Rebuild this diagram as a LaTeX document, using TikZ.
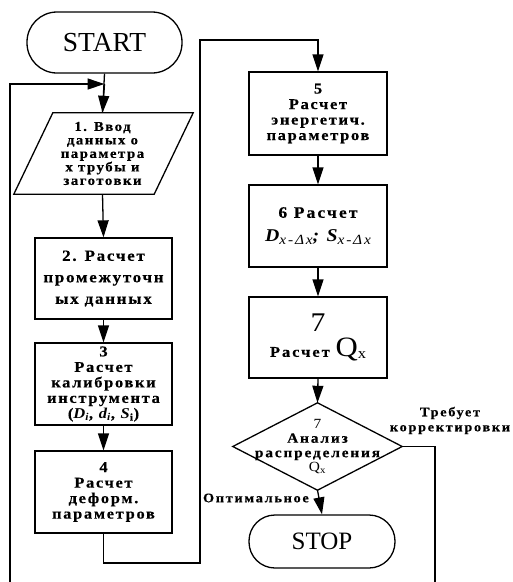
\documentclass[tikz,border=0pt]{standalone}
\usepackage{fontspec}
\setmainfont{Liberation Serif}
\newfontfamily\bsp{Liberation Serif}[LetterSpace=11,FakeStretch=1.1,BoldFeatures={FakeBold=0.4}]
\newfontfamily\bspw{Liberation Serif}[LetterSpace=13,FakeStretch=1.1,BoldFeatures={FakeBold=0.4}]
\usetikzlibrary{arrows.meta,calc}
\tikzset{
  ln/.style={line width=1.3pt},
  arr/.style={ln,-{Triangle[length=17pt,width=11pt]}},
  box/.style={draw,ln,minimum width=137pt,minimum height=81pt,inner sep=0pt,align=center,
    font={\bsp\bfseries\fontsize{15}{15.5}\selectfont}},
  term/.style={draw,ln,inner sep=0pt},
  lbl/.style={inner sep=0pt,align=center,font={\bspw\bfseries\fontsize{13}{15}\selectfont}}
}
\begin{document}
\begin{tikzpicture}[x=1pt,y=-1pt]
\useasboundingbox (0,0) rectangle (513,582);
% left column
\node[term,minimum width=155pt,minimum height=61pt,rounded corners=30pt,font={\fontsize{27.5}{28}\selectfont}] (start) at (104.5,42.5) {START};
\node[inner sep=0pt,minimum width=140pt,minimum height=81pt,align=center,
  font={\bsp\bfseries\fontsize{13.5}{13.5}\selectfont}] (p1) at (102.5,153.5)
  {1. Ввод\\данных о\\параметра\\х трубы и\\заготовки};
\draw[ln] ($(p1.north west)+(20.5,0)$) -- ($(p1.north east)+(20.5,0)$)
  -- ($(p1.south east)+(-18.5,0)$) -- ($(p1.south west)+(-18.5,0)$) -- cycle;
\node[box,font={\bsp\bfseries\fontsize{15.5}{21.5}\selectfont}] (b2) at (103.5,278.5)
  {2. Расчет\\промежуточн\\ых данных};
\node[box,minimum height=82pt] (b3) at (103.5,384)
  {3\\Расчет\\калибровки\\инструмента\\({\itshape D}\textsubscript{\itshape i}, {\itshape d}\textsubscript{\itshape i}, {\itshape S}\textsubscript{i})};
\node[box,minimum height=82pt] (b4) at (103.5,492)
  {4\\Расчет\\деформ.\\параметров};
% right column
\node[box,minimum width=138pt,minimum height=83pt] (b5) at (318,113.5)
  {5\\Расчет\\энергетич.\\параметров};
\node[box,minimum width=138pt,minimum height=82pt,font={\bspw\bfseries\fontsize{16}{24}\selectfont}] (b6) at (318,226)
  {6 Расчет\\{\fontsize{18}{24}\selectfont\itshape D{\fontsize{14}{14}\selectfont\mdseries\raisebox{-3pt}{x-Δx}}; S{\fontsize{14}{14}\selectfont\mdseries\raisebox{-3pt}{x-Δx}}}};
\node[box,minimum width=138pt,minimum height=81pt] (b7) at (318,337.5)
  {{\fontsize{27}{27}\selectfont\mdseries 7}\\[6pt]{\bspw Расчет} {\fontsize{28}{27}\selectfont\mdseries Q{\fontsize{15}{15}\selectfont\raisebox{-2pt}{x}}}};
\node[inner sep=0pt,minimum width=169pt,minimum height=87pt,align=center,
  font={\bspw\bfseries\fontsize{14}{14.5}\selectfont}] (d) at (317.5,446.5)
  {{\mdseries 7}\\Анализ\\распределения\\{\mdseries Q\textsubscript{x}}};
\draw[ln] (d.north) -- (d.east) -- (d.south) -- (d.west) -- cycle;
\node[term,minimum width=146pt,minimum height=53pt,rounded corners=26pt,font={\fontsize{25}{25}\selectfont}] (stop) at (322,541.5) {STOP};
% labels
\node[lbl] (lr) at (450,420.5) {Требует\\корректировки};
\node[lbl,anchor=east] (lo) at (309,498) {Оптимальное};
% coordinates
\coordinate (fb) at (104.5,84);
\coordinate (l0) at (10,582);
\coordinate (r0) at (435,582);
\coordinate (j1) at (200,563);
\coordinate (j2) at (200,40);
% connectors
\draw[ln] (start.south) -- (p1.north);
\draw[arr] (fb) -- (p1.north);
\draw[arr] (l0) |- (fb);
\draw[arr] (p1.south) -- (b2.north);
\draw[arr] (b2.south) -- (b3.north);
\draw[arr] (b3.south) -- (b4.north);
\draw[arr] (b4.south) |- (j1) -- (j2) -| (b5.north);
\draw[arr] (b5.south) -- (b6.north);
\draw[arr] (b6.south) -- (b7.north);
\draw[arr] (b7.south) -- (d.north);
\draw[arr] (d.south) -- (stop.north);
\draw[ln] (d.east) -| (r0);
\end{tikzpicture}
\end{document}
